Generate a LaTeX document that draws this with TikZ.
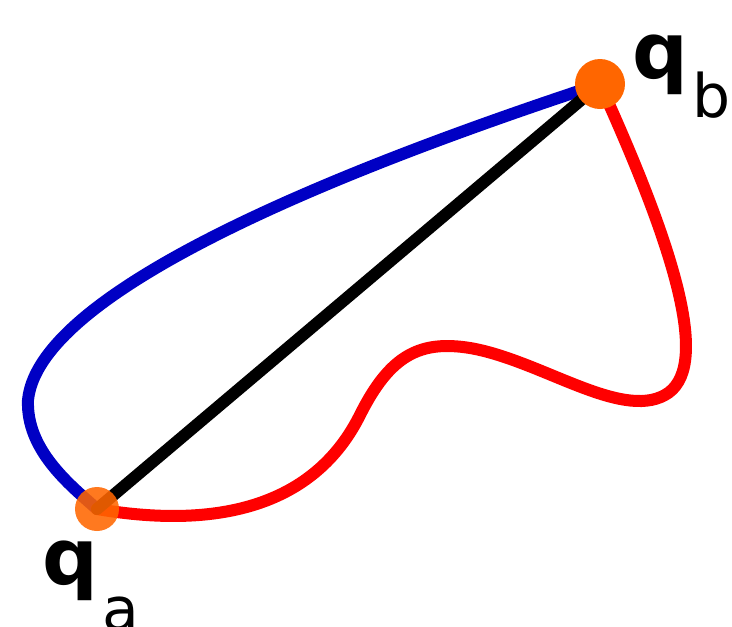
\documentclass[tikz,border=0pt]{standalone}
\usepackage{fontspec}
\setmainfont{DejaVu Sans}
\usetikzlibrary{positioning}

\definecolor{pathblue}{RGB}{0,0,196}
\definecolor{pathred}{RGB}{255,0,0}
\definecolor{dotorange}{RGB}{255,102,0}

\tikzset{
  path/.style={line width=12pt,line cap=round},
  endpoint/.style={circle,fill=dotorange,inner sep=0pt,minimum size=#1},
  lbl/.style={inner sep=0pt,anchor=base west}
}

\begin{document}
\begin{tikzpicture}[x=1pt,y=-1pt]
\useasboundingbox (0,0) rectangle (732,627);

\coordinate (qa) at (97,509);
\coordinate (qb) at (600,84);

% blue path
\draw[path,pathblue] (qb) .. controls (400,150) and (40,280) .. (28,400)
  .. controls (26,450) and (70,485) .. (qa);

% red path
\draw[path,pathred] (qa) .. controls (220,530) and (315,505) .. (360,415)
  .. controls (390,355) and (420,340) .. (470,348)
  .. controls (540,360) and (620,420) .. (665,395)
  .. controls (710,370) and (680,260) .. (qb);

% straight segment
\draw[path,black] (qa) -- (qb);

\node[endpoint=44pt,opacity=0.88] (dota) at (qa) {};
\node[endpoint=50pt] (dotb) at (qb) {};

\node[lbl] (labb) at (632,78) {{\fontsize{78}{78}\selectfont\bfseries q}\kern4pt{\fontsize{60}{60}\selectfont\raisebox{-39pt}{b}}};
\node[lbl] (laba) at (42,584) {{\fontsize{78}{78}\selectfont\bfseries q}\kern4pt{\fontsize{60}{60}\selectfont\raisebox{-46pt}{a}}};
\end{tikzpicture}
\end{document}
